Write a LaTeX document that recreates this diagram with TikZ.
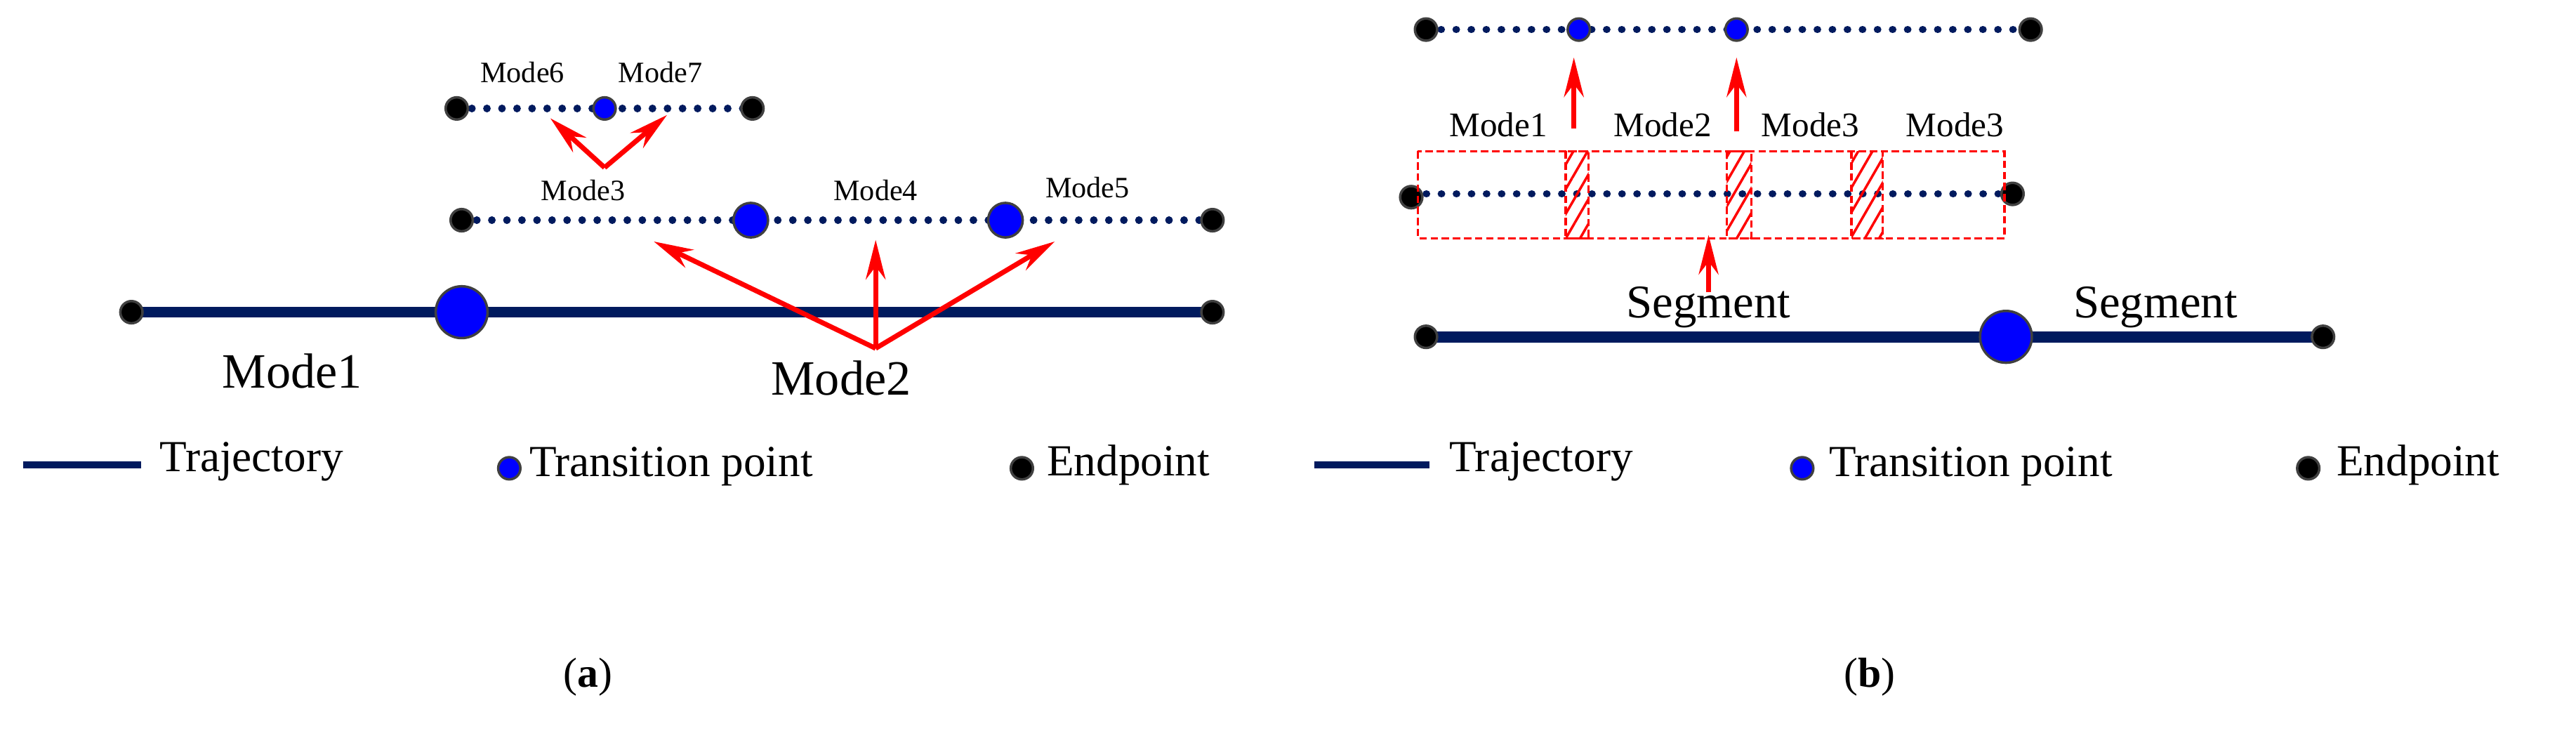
\documentclass[tikz,border=0pt]{standalone}
\usepackage{fontspec}
\setmainfont{Liberation Serif}
\usetikzlibrary{arrows.meta,patterns.meta}
\definecolor{navy}{HTML}{001A5E}
\definecolor{bdot}{HTML}{0000FF}
\definecolor{edge}{HTML}{404040}
\begin{document}
\begin{tikzpicture}[x=0.0234cm,y=-0.0234cm,
  traj/.style={navy,line width=4.5pt},
  dtraj/.style={navy,line width=3pt,line cap=round,dash pattern=on 0.1pt off 6pt},
  endp/.style={circle,fill=black,draw=edge,line width=1pt,minimum size=9pt,inner sep=0pt},
  tps/.style={circle,fill=bdot,draw=edge,line width=1pt,minimum size=9pt,inner sep=0pt},
  tpm/.style={tps,minimum size=14pt},
  tpl/.style={tps,minimum size=21pt},
  arr/.style={red,line width=2pt,-{Stealth[length=16pt,width=8pt]}},
  lab/.style={font=\fontsize{12}{12}\selectfont,inner sep=0pt},
  big/.style={font=\fontsize{20}{20}\selectfont,inner sep=0pt},
  leg/.style={font=\fontsize{18}{18}\selectfont,inner sep=0pt,anchor=west},
  box/.style={red,line width=1pt,dash pattern=on 3pt off 1.5pt}]
\useasboundingbox (0,0) rectangle (1568,444.5);
% ---------- panel (a)
\draw[traj] (80,190) -- (738,190);
\node[endp] (a1) at (80,190) {};
\node[endp] (a2) at (738,190) {};
\node[tpl] (a3) at (281,190) {};
\draw[dtraj] (281,134) -- (738,134);
\node[endp] (b1) at (281,134) {};
\node[endp] (b2) at (738,134) {};
\node[tpm] (b3) at (457,134) {};
\node[tpm] (b4) at (612,134) {};
\draw[dtraj] (278,66) -- (458,66);
\node[endp] (c1) at (278,66) {};
\node[endp] (c2) at (458,66) {};
\node[tps] (c3) at (368,66) {};
\node[lab] at (318,44) {Mode6};
\node[lab] at (402,44) {Mode7};
\node[lab] at (355,116) {Mode3};
\node[lab] at (533,116) {Mode4};
\node[lab] at (662,114) {Mode5};
\node[big] at (178,226) {Mode1};
\node[big] at (512,230) {Mode2};
\coordinate (m2) at (533,212);
\coordinate (t3) at (398,147);
\coordinate (t4) at (533,146);
\coordinate (t5) at (642,147);
\draw[arr] (m2) -- (t3);
\draw[arr] (m2) -- (t4);
\draw[arr] (m2) -- (t5);
\coordinate (m3) at (368,102);
\coordinate (t6) at (335,72);
\coordinate (t7) at (406,70);
\draw[arr] (m3) -- (t6);
\draw[arr] (m3) -- (t7);
% ---------- panel (b)
\draw[dtraj] (868,18) -- (1236,18);
\node[endp] (d1) at (868,18) {};
\node[endp] (d2) at (1236,18) {};
\node[tps] (d3) at (961,18) {};
\node[tps] (d4) at (1057,18) {};
\coordinate (s1) at (958,78);
\coordinate (s2) at (1057,80);
\draw[arr] (s1) -- (958,35);
\draw[arr] (s2) -- (1057,35);
\node[lab,font=\fontsize{14}{14}\selectfont] at (912,76) {Mode1};
\node[lab,font=\fontsize{14}{14}\selectfont] at (1012,76) {Mode2};
\node[lab,font=\fontsize{14}{14}\selectfont] at (1102,76) {Mode3};
\node[lab,font=\fontsize{14}{14}\selectfont] at (1190,76) {Mode3};
\draw[dtraj] (859,118) -- (1225,118);
\node[endp] (e1) at (859,120) {};
\node[endp] (e2) at (1225,118) {};
\foreach \xa/\xb in {953/967,1051/1066,1127/1146}{
  \fill[pattern={Lines[angle=60,distance=5pt,line width=1pt]},pattern color=red] (\xa,92) rectangle (\xb,145);
  \draw[box] (\xa,92) rectangle (\xb,145);
}
\draw[box] (863,92) rectangle (1220,145);
\coordinate (sg) at (1040,178);
\draw[arr] (sg) -- (1040,143);
\node[big,font=\fontsize{19}{19}\selectfont] at (1040,187) {Segment};
\node[big,font=\fontsize{19}{19}\selectfont] at (1312,187) {Segment};
\draw[traj] (868,205) -- (1414,205);
\node[endp] (f1) at (868,205) {};
\node[endp] (f2) at (1414,205) {};
\node[tpl] (f3) at (1221,205) {};
% ---------- legends
\draw[traj,line width=3pt] (14,283) -- (86,283);
\node[leg] at (97,281) {Trajectory};
\node[tps] (l1) at (310,285) {};
\node[leg] at (322,284) {Transition point};
\node[endp] (l2) at (622,285) {};
\node[leg] at (637,283) {Endpoint};
\draw[traj,line width=3pt] (800,283) -- (870,283);
\node[leg] at (882,281) {Trajectory};
\node[tps] (l3) at (1097,285) {};
\node[leg] at (1113,284) {Transition point};
\node[endp] (l4) at (1405,285) {};
\node[leg] at (1422,283) {Endpoint};
\node[font=\fontsize{17}{17}\selectfont] at (358,412) {(\textbf{a})};
\node[font=\fontsize{17}{17}\selectfont] at (1138,412) {(\textbf{b})};
\end{tikzpicture}
\end{document}
